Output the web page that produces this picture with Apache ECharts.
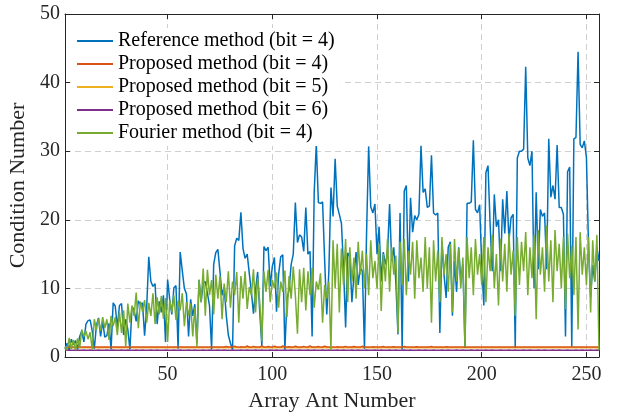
<!DOCTYPE html>
<html>
<head>
<meta charset="utf-8">
<script src="https://cdn.jsdelivr.net/npm/echarts@6/dist/echarts.min.js"></script>
<style>
  html, body { margin: 0; background: #fff; }
  #chart { width: 618px; height: 416px; }
</style>
</head>
<body>
<div id="chart"></div>
<script>
// tick labels
const xTicks = [50, 100, 150, 200, 250]

// condition number per array antenna number (1..256)
const refBit4 = [
  1.2, 2.0, 1.0, 2.6, 1.8, 2.4, 1.1, 3.0, 3.8, 2.2, 4.8, 5.3, 5.4, 3.8, 1.2, 4.6,
  5.7, 3.0, 5.2, 2.9, 3.1, 4.9, 1.1, 7.9, 7.4, 4.3, 7.5, 7.8, 3.2, 5.5, 4.0, 1.1,
  7.4, 6.8, 5.2, 8.2, 7.6, 7.9, 3.1, 7.2, 14.6, 11.0, 10.3, 10.7, 4.8, 8.1, 6.5, 9.0,
  2.2, 11.3, 8.4, 6.2, 10.1, 10.4, 1.2, 15.3, 12.6, 10.0, 9.2, 3.0, 8.4, 6.0, 7.7, 2.0,
  11.2, 8.0, 10.8, 11.0, 9.3, 7.5, 1.1, 13.5, 15.2, 15.7, 12.4, 9.0, 10.2, 6.1, 3.2, 2.0,
  1.1, 16.2, 17.3, 17.0, 21.1, 15.8, 14.4, 15.0, 12.2, 9.5, 6.3, 9.8, 12.4, 6.5, 1.6, 16.1,
  15.5, 16.0, 10.3, 13.2, 14.5, 6.6, 12.0, 14.6, 14.9, 1.1, 8.4, 9.8, 13.5, 15.0, 22.5, 16.7,
  17.8, 17.5, 15.4, 21.8, 15.0, 15.4, 3.0, 24.0, 31.0, 22.5, 22.4, 22.6, 14.0, 6.2, 12.5, 24.7,
  20.5, 28.9, 22.0, 20.8, 19.5, 13.0, 4.3, 15.2, 14.6, 8.0, 12.0, 15.3, 10.5, 13.0, 12.5, 1.2,
  18.0, 30.7, 21.9, 21.0, 22.3, 15.0, 19.0, 11.0, 15.3, 13.5, 15.0, 22.3, 14.0, 16.0, 10.8, 3.3,
  21.0, 1.1, 24.2, 25.0, 11.0, 23.2, 18.2, 20.6, 20.0, 20.8, 30.8, 24.0, 24.5, 21.8, 22.0, 29.4,
  21.0, 20.7, 21.0, 3.5, 16.6, 12.0, 8.6, 16.0, 16.8, 6.0, 14.0, 9.5, 16.0, 11.0, 13.5, 1.3,
  22.4, 22.4, 22.6, 31.6, 21.5, 21.0, 22.2, 13.4, 7.5, 26.9, 27.9, 19.4, 12.5, 23.7, 19.0, 20.0,
  12.5, 23.0, 18.0, 24.2, 17.0, 20.3, 20.8, 1.3, 29.0, 30.0, 30.0, 30.3, 42.3, 29.0, 27.9, 30.0,
  10.0, 24.0, 12.8, 21.5, 20.5, 21.0, 12.8, 31.8, 23.3, 25.0, 23.0, 30.9, 21.8, 21.8, 20.8, 3.0,
  27.0, 27.7, 1.5, 31.8, 32.0, 44.5, 31.0, 30.5, 31.5, 29.1, 16.0, 8.8, 13.4, 11.0, 16.0, 14.0
]

const propBit4 = [
  1.20, 1.38, 1.42, 1.45, 1.44, 1.46, 1.45, 1.45, 1.44, 1.46, 1.45, 1.45, 1.46, 1.45, 1.44, 1.45,
  1.45, 1.46, 1.45, 1.44, 1.45, 1.46, 1.45, 1.45, 1.44, 1.45, 1.46, 1.45, 1.45, 1.44, 1.46, 1.45,
  1.45, 1.44, 1.46, 1.45, 1.45, 1.46, 1.44, 1.45, 1.45, 1.46, 1.45, 1.44, 1.45, 1.46, 1.45, 1.45,
  1.44, 1.46, 1.45, 1.45, 1.46, 1.44, 1.45, 1.45, 1.46, 1.45, 1.44, 1.45, 1.46, 1.45, 1.45, 1.44,
  1.46, 1.45, 1.45, 1.44, 1.46, 1.45, 1.45, 1.46, 1.44, 1.45, 1.45, 1.46, 1.45, 1.52, 1.45, 1.44,
  1.45, 1.58, 1.45, 1.44, 1.50, 1.46, 1.45, 1.60, 1.45, 1.44, 1.55, 1.45, 1.46, 1.45, 1.62, 1.45,
  1.44, 1.52, 1.45, 1.46, 1.58, 1.45, 1.44, 1.45, 1.60, 1.46, 1.45, 1.50, 1.45, 1.44, 1.57, 1.45,
  1.46, 1.45, 1.55, 1.44, 1.45, 1.62, 1.45, 1.46, 1.45, 1.52, 1.44, 1.45, 1.58, 1.45, 1.46, 1.45,
  1.45, 1.44, 1.50, 1.45, 1.46, 1.45, 1.55, 1.44, 1.45, 1.46, 1.52, 1.45, 1.45, 1.44, 1.56, 1.45,
  1.46, 1.45, 1.44, 1.50, 1.45, 1.46, 1.45, 1.45, 1.53, 1.44, 1.45, 1.46, 1.45, 1.50, 1.45, 1.44,
  1.45, 1.46, 1.52, 1.45, 1.44, 1.45, 1.46, 1.45, 1.50, 1.45, 1.44, 1.45, 1.46, 1.45, 1.45, 1.52,
  1.44, 1.45, 1.46, 1.45, 1.45, 1.44, 1.50, 1.45, 1.46, 1.45, 1.44, 1.45, 1.45, 1.46, 1.45, 1.44,
  1.45, 1.46, 1.45, 1.44, 1.45, 1.45, 1.46, 1.45, 1.44, 1.45, 1.46, 1.45, 1.45, 1.44, 1.45, 1.46,
  1.45, 1.44, 1.45, 1.46, 1.45, 1.45, 1.44, 1.46, 1.45, 1.45, 1.44, 1.45, 1.46, 1.45, 1.45, 1.44,
  1.46, 1.45, 1.45, 1.44, 1.45, 1.46, 1.45, 1.45, 1.44, 1.46, 1.45, 1.45, 1.44, 1.45, 1.46, 1.45,
  1.45, 1.44, 1.46, 1.45, 1.45, 1.44, 1.45, 1.46, 1.45, 1.45, 1.44, 1.45, 1.46, 1.45, 1.45, 1.45
]

const propBit5 = [
  1.10, 1.28, 1.32, 1.35, 1.34, 1.35, 1.36, 1.35, 1.35, 1.34, 1.35, 1.36, 1.35, 1.35, 1.34, 1.35,
  1.35, 1.36, 1.35, 1.34, 1.35, 1.35, 1.36, 1.35, 1.34, 1.35, 1.35, 1.36, 1.35, 1.35, 1.34, 1.35,
  1.36, 1.35, 1.35, 1.34, 1.35, 1.36, 1.35, 1.35, 1.34, 1.35, 1.36, 1.35, 1.35, 1.34, 1.35, 1.35,
  1.35, 1.34, 1.36, 1.35, 1.35, 1.35, 1.34, 1.36, 1.35, 1.35, 1.34, 1.35, 1.36, 1.35, 1.35, 1.34,
  1.35, 1.36, 1.35, 1.35, 1.34, 1.35, 1.36, 1.35, 1.35, 1.34, 1.35, 1.36, 1.35, 1.35, 1.34, 1.35,
  1.36, 1.35, 1.35, 1.34, 1.35, 1.36, 1.35, 1.35, 1.34, 1.35, 1.36, 1.35, 1.35, 1.34, 1.35, 1.35,
  1.35, 1.34, 1.36, 1.35, 1.35, 1.35, 1.34, 1.36, 1.35, 1.35, 1.34, 1.35, 1.36, 1.35, 1.35, 1.34,
  1.35, 1.36, 1.35, 1.35, 1.34, 1.35, 1.36, 1.35, 1.35, 1.34, 1.35, 1.36, 1.35, 1.35, 1.34, 1.35,
  1.36, 1.35, 1.35, 1.34, 1.35, 1.36, 1.35, 1.35, 1.34, 1.35, 1.36, 1.35, 1.35, 1.34, 1.35, 1.35,
  1.35, 1.34, 1.36, 1.35, 1.35, 1.35, 1.34, 1.36, 1.35, 1.35, 1.34, 1.35, 1.36, 1.35, 1.35, 1.34,
  1.35, 1.36, 1.35, 1.35, 1.34, 1.35, 1.36, 1.35, 1.35, 1.34, 1.35, 1.36, 1.35, 1.35, 1.34, 1.35,
  1.36, 1.35, 1.35, 1.34, 1.35, 1.36, 1.35, 1.35, 1.34, 1.35, 1.36, 1.35, 1.35, 1.34, 1.35, 1.35,
  1.35, 1.34, 1.36, 1.35, 1.35, 1.35, 1.34, 1.36, 1.35, 1.35, 1.34, 1.35, 1.36, 1.35, 1.35, 1.34,
  1.35, 1.36, 1.35, 1.35, 1.34, 1.35, 1.36, 1.35, 1.35, 1.34, 1.35, 1.36, 1.35, 1.35, 1.34, 1.35,
  1.36, 1.35, 1.35, 1.34, 1.35, 1.36, 1.35, 1.35, 1.34, 1.35, 1.36, 1.35, 1.35, 1.34, 1.35, 1.35,
  1.35, 1.34, 1.36, 1.35, 1.35, 1.35, 1.34, 1.36, 1.35, 1.35, 1.34, 1.35, 1.36, 1.35, 1.35, 1.35
]

const propBit6 = [
  1.00, 1.00, 1.01, 1.00, 1.00, 1.01, 1.00, 1.00, 1.00, 1.01, 1.00, 1.00, 1.01, 1.00, 1.00, 1.00,
  1.01, 1.00, 1.00, 1.00, 1.01, 1.00, 1.00, 1.01, 1.00, 1.00, 1.00, 1.01, 1.00, 1.00, 1.01, 1.00,
  1.00, 1.00, 1.01, 1.00, 1.00, 1.01, 1.00, 1.00, 1.00, 1.01, 1.00, 1.00, 1.01, 1.00, 1.00, 1.00,
  1.01, 1.00, 1.00, 1.00, 1.01, 1.00, 1.00, 1.01, 1.00, 1.00, 1.00, 1.01, 1.00, 1.00, 1.01, 1.00,
  1.00, 1.00, 1.01, 1.00, 1.00, 1.01, 1.00, 1.00, 1.00, 1.01, 1.00, 1.00, 1.01, 1.00, 1.00, 1.00,
  1.01, 1.00, 1.00, 1.00, 1.01, 1.00, 1.00, 1.01, 1.00, 1.00, 1.00, 1.01, 1.00, 1.00, 1.01, 1.00,
  1.00, 1.00, 1.01, 1.00, 1.00, 1.01, 1.00, 1.00, 1.00, 1.01, 1.00, 1.00, 1.01, 1.00, 1.00, 1.00,
  1.01, 1.00, 1.00, 1.00, 1.01, 1.00, 1.00, 1.01, 1.00, 1.00, 1.00, 1.01, 1.00, 1.00, 1.01, 1.00,
  1.00, 1.00, 1.01, 1.00, 1.00, 1.01, 1.00, 1.00, 1.00, 1.01, 1.00, 1.00, 1.01, 1.00, 1.00, 1.00,
  1.01, 1.00, 1.00, 1.00, 1.01, 1.00, 1.00, 1.01, 1.00, 1.00, 1.00, 1.01, 1.00, 1.00, 1.01, 1.00,
  1.00, 1.00, 1.01, 1.00, 1.00, 1.01, 1.00, 1.00, 1.00, 1.01, 1.00, 1.00, 1.01, 1.00, 1.00, 1.00,
  1.01, 1.00, 1.00, 1.00, 1.01, 1.00, 1.00, 1.01, 1.00, 1.00, 1.00, 1.01, 1.00, 1.00, 1.01, 1.00,
  1.00, 1.00, 1.01, 1.00, 1.00, 1.01, 1.00, 1.00, 1.00, 1.01, 1.00, 1.00, 1.01, 1.00, 1.00, 1.00,
  1.01, 1.00, 1.00, 1.00, 1.01, 1.00, 1.00, 1.01, 1.00, 1.00, 1.00, 1.01, 1.00, 1.00, 1.01, 1.00,
  1.00, 1.00, 1.01, 1.00, 1.00, 1.01, 1.00, 1.00, 1.00, 1.01, 1.00, 1.00, 1.01, 1.00, 1.00, 1.00,
  1.01, 1.00, 1.00, 1.00, 1.01, 1.00, 1.00, 1.01, 1.00, 1.00, 1.00, 1.01, 1.00, 1.00, 1.01, 1.00
]

const fourierBit4 = [
  1.5, 1.0, 2.8, 1.2, 2.5, 1.0, 2.7, 1.3, 4.0, 3.0, 3.8, 2.6, 3.6, 1.1, 5.5, 4.0,
  5.6, 3.8, 5.8, 4.2, 5.5, 2.5, 6.0, 4.5, 5.8, 3.2, 6.5, 3.5, 6.8, 1.5, 7.8, 5.0,
  7.5, 6.0, 9.4, 4.2, 8.1, 6.6, 8.3, 5.0, 7.9, 6.0, 9.3, 4.8, 8.7, 6.2, 8.9, 5.6,
  8.6, 2.2, 8.3, 6.5, 9.0, 5.4, 8.2, 6.8, 9.3, 4.5, 8.0, 6.0, 7.8, 3.0, 7.2, 1.5,
  11.3, 8.0, 12.9, 6.0, 12.7, 9.0, 11.2, 6.2, 12.0, 8.5, 11.8, 5.5, 10.7, 8.0, 12.5, 7.2,
  11.0, 9.0, 12.4, 5.0, 11.8, 8.5, 12.5, 7.0, 10.2, 9.0, 12.8, 6.5, 11.5, 8.0, 2.3, 12.5,
  9.5, 12.7, 8.0, 11.2, 10.0, 12.3, 7.2, 11.0, 9.5, 12.6, 5.8, 11.8, 8.5, 13.2, 9.0, 3.4,
  12.8, 8.0, 13.0, 6.8, 12.5, 9.0, 13.0, 7.2, 11.0, 9.8, 12.2, 5.0, 10.5, 8.5, 11.0, 1.0,
  17.0, 10.0, 16.5, 6.5, 15.8, 10.5, 17.2, 8.0, 16.0, 11.0, 14.5, 8.5, 16.8, 12.0, 15.5, 10.0,
  15.0, 9.0, 17.0, 11.5, 14.0, 10.0, 16.5, 6.7, 15.0, 11.0, 17.2, 9.5, 16.0, 12.0, 14.8, 3.5,
  16.8, 10.5, 17.2, 9.0, 15.5, 12.0, 16.8, 8.5, 17.0, 11.5, 14.5, 9.5, 17.5, 10.0, 16.0, 5.0,
  17.0, 11.0, 15.5, 8.0, 17.5, 12.0, 15.0, 9.5, 16.5, 6.5, 17.2, 11.0, 15.8, 10.0, 14.5, 1.5,
  17.5, 11.5, 16.0, 9.0, 17.2, 12.0, 15.0, 10.5, 17.5, 8.0, 16.0, 12.5, 17.8, 10.0, 15.0, 7.5,
  17.2, 11.0, 16.5, 9.5, 18.0, 12.0, 15.5, 6.0, 17.5, 10.5, 16.8, 12.5, 18.2, 9.0, 16.0, 11.5,
  17.8, 5.5, 18.5, 12.0, 16.0, 9.5, 19.2, 11.0, 17.0, 8.0, 18.5, 12.5, 16.5, 10.0, 17.5, 7.0,
  18.0, 11.5, 16.2, 9.0, 17.5, 4.0, 18.2, 12.0, 16.0, 10.5, 17.5, 6.5, 17.0, 11.0, 17.8, 1.0
]

const antNumbers = refBit4.map((_, i) => i + 1)

const seriesNames = [
  'Reference method (bit = 4)',
  'Proposed method (bit = 4)',
  'Proposed method (bit = 5)',
  'Proposed method (bit = 6)',
  'Fourier method (bit = 4)'
]

const FONT = "'Liberation Serif', 'Times New Roman', serif"
const AXIS_COLOR = '#262626'
const GRID_LINE = { type: [6, 4], color: '#cfcfcf', width: 1 }

function pairs(values) {
  return antNumbers.map((n, i) => [n, values[i]])
}

function lineSeries(name, values, color, z) {
  return {
    name,
    type: 'line',
    data: pairs(values),
    symbol: 'none',
    showSymbol: false,
    z,
    lineStyle: { color, width: 1.5 },
    itemStyle: { color }
  }
}

const boxAxis = {
  axisLine: { show: true, onZero: false, lineStyle: { color: AXIS_COLOR, width: 1 } },
  axisLabel: { show: false },
  splitLine: { show: false }
}

const chart = echarts.init(document.getElementById('chart'), null, { renderer: 'canvas' })

chart.setOption({
  animation: false,
  backgroundColor: '#fff',
  grid: { left: 65, right: 19, top: 14, bottom: 59, containLabel: false, outerBoundsMode: 'none' },
  legend: {
    data: seriesNames,
    orient: 'vertical',
    left: 72,
    top: 28,
    // tiny item height so the legend marker is only the line (no round symbol)
    itemWidth: 36,
    itemHeight: 1.5,
    itemGap: 3,
    padding: [3, 6, 3, 4],
    backgroundColor: '#fff',
    textStyle: { fontFamily: FONT, fontSize: 20, color: '#000', lineHeight: 18 }
  },
  xAxis: [
    {
      type: 'value',
      min: 1,
      max: 256,
      position: 'bottom',
      name: 'Array Ant Number',
      nameLocation: 'middle',
      nameGap: 33,
      nameTextStyle: { fontFamily: FONT, fontSize: 22, color: AXIS_COLOR },
      axisLine: { show: true, onZero: false, lineStyle: { color: AXIS_COLOR, width: 1 } },
      axisTick: { show: true, inside: true, length: 5, customValues: xTicks, lineStyle: { color: AXIS_COLOR } },
      axisLabel: { customValues: xTicks, fontFamily: FONT, fontSize: 20, color: AXIS_COLOR, margin: 8 },
      splitLine: { show: true, lineStyle: GRID_LINE }
    },
    {
      ...boxAxis,
      type: 'value',
      min: 1,
      max: 256,
      position: 'top',
      axisTick: { show: true, inside: true, length: 5, customValues: xTicks, lineStyle: { color: AXIS_COLOR } }
    }
  ],
  yAxis: [
    {
      type: 'value',
      min: 0,
      max: 50,
      interval: 10,
      position: 'left',
      name: 'Condition Number',
      nameLocation: 'middle',
      nameGap: 32,
      nameTextStyle: { fontFamily: FONT, fontSize: 22, color: AXIS_COLOR },
      axisLine: { show: true, onZero: false, lineStyle: { color: AXIS_COLOR, width: 1 } },
      axisTick: { show: true, inside: true, length: 5, lineStyle: { color: AXIS_COLOR } },
      axisLabel: { fontFamily: FONT, fontSize: 20, color: AXIS_COLOR, margin: 5 },
      splitLine: { show: true, lineStyle: GRID_LINE }
    },
    {
      ...boxAxis,
      type: 'value',
      min: 0,
      max: 50,
      interval: 10,
      position: 'right',
      axisTick: { show: true, inside: true, length: 5, lineStyle: { color: AXIS_COLOR } }
    }
  ],
  series: [
    lineSeries(seriesNames[0], refBit4, '#0072BD', 2),
    lineSeries(seriesNames[1], propBit4, '#D95319', 3),
    lineSeries(seriesNames[2], propBit5, '#EDB120', 1),
    lineSeries(seriesNames[3], propBit6, '#7E2F8E', 3),
    lineSeries(seriesNames[4], fourierBit4, '#77AC30', 4)
  ]
})
</script>
</body>
</html>
